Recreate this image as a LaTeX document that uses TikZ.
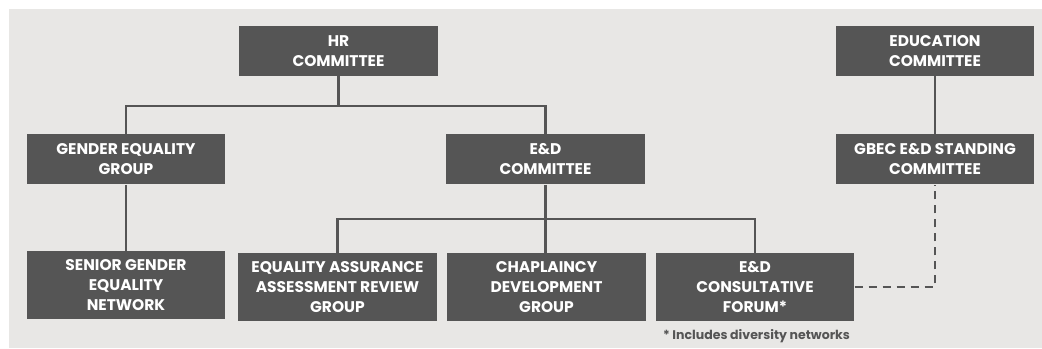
\documentclass[tikz,border=0pt]{standalone}
\usepackage{fontspec}
\setmainfont{Poppins}
\usetikzlibrary{positioning}
\definecolor{bggrey}{HTML}{E8E7E5}
\definecolor{boxgrey}{HTML}{555555}
\begin{document}
\begin{tikzpicture}[
        x=0.75pt,y=-0.75pt,
        topsty/.style={rectangle,fill=boxgrey,text=white,font=\bfseries\fontsize{11.6}{15}\selectfont,align=center,minimum width=149pt,minimum height=37.5pt,inner sep=0pt},
        lowsty/.style={topsty,minimum height=51pt},
        lsty/.style={draw=boxgrey,line width=1.6pt},
        ]

        \useasboundingbox (0,0) rectangle (1042,349);
        \fill[bggrey] (9,9) rectangle (1042,348);

        \node (hr) at (338.5,51) [topsty] {HR\\COMMITTEE};
        \node (educ) at (935,51) [topsty] {EDUCATION\\COMMITTEE};
        \node (geg) at (126,159.5) [topsty] {GENDER EQUALITY\\GROUP};
        \node (edc) at (545.5,159.5) [topsty] {E\&D\\COMMITTEE};
        \node (gbec) at (935,159.5) [topsty] {GBEC E\&D STANDING\\COMMITTEE};

        \node (sgen) at (126,285) [lowsty] {SENIOR GENDER\\EQUALITY\\NETWORK};
        \node (eaarg) at (337.5,287) [lowsty] {EQUALITY ASSURANCE\\ASSESSMENT REVIEW\\GROUP};
        \node (cdg) at (546.5,287) [lowsty] {CHAPLAINCY\\DEVELOPMENT\\GROUP};
        \node (edcf) at (755,287) [lowsty] {E\&D\\CONSULTATIVE\\FORUM*};

        \node (note) at (756.5,336) [text=boxgrey,font=\bfseries\fontsize{9.4}{11}\selectfont] {* Includes diversity networks};

        \coordinate (hrjoin) at (338.5,106);
        \coordinate (edjoin) at (545.5,219);

        \draw[lsty] (hr) -- (hrjoin);
        \draw[lsty] (geg.north) |- (hrjoin) -| (edc.north);
        \draw[lsty] (geg) -- (sgen);
        \draw[lsty] (edc) -- (edjoin);
        \draw[lsty] (eaarg.north) |- (edjoin) -| (edcf.north);
        \draw[lsty] (edjoin) -- (cdg.north -| edjoin);
        \draw[lsty] (educ) -- (gbec);
        \draw[lsty,dash pattern=on 6pt off 4.5pt] (edcf.east) -| (gbec.south);

    \end{tikzpicture}
\end{document}
